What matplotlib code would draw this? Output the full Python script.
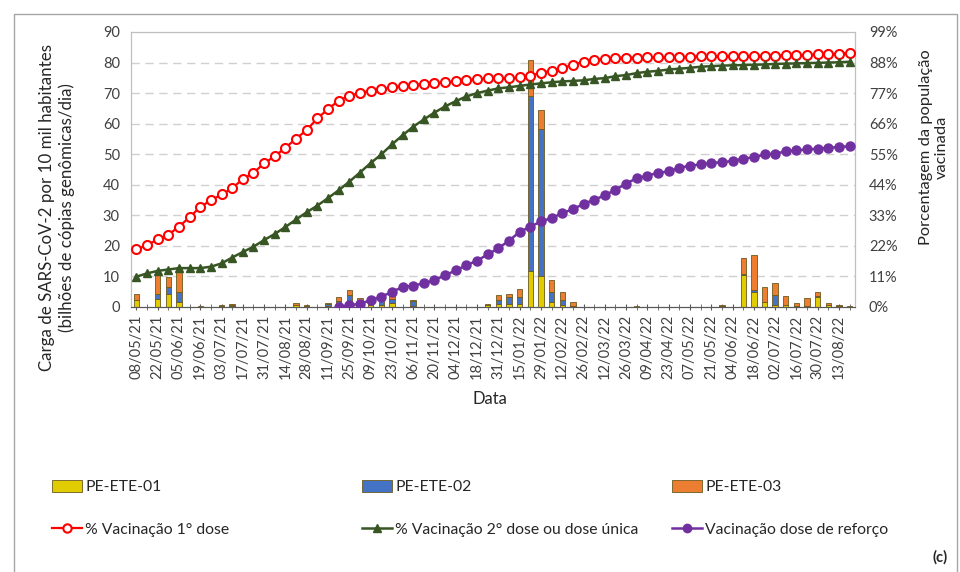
import numpy as np
import matplotlib
matplotlib.use('Agg')
import matplotlib.pyplot as plt
from matplotlib.patches import Patch, Rectangle
from matplotlib.lines import Line2D

plt.rcParams['font.family'] = ['Lato', 'DejaVu Sans']

# weekly categories, labels every 2 weeks
tick_labels = ['08/05/21', '22/05/21', '05/06/21', '19/06/21', '03/07/21', '17/07/21',
               '31/07/21', '14/08/21', '28/08/21', '11/09/21', '25/09/21', '09/10/21',
               '23/10/21', '06/11/21', '20/11/21', '04/12/21', '18/12/21', '31/12/21',
               '15/01/22', '29/01/22', '12/02/22', '26/02/22', '12/03/22', '26/03/22',
               '09/04/22', '23/04/22', '07/05/22', '21/05/22', '04/06/22', '18/06/22',
               '02/07/22', '16/07/22', '30/07/22', '13/08/22']
n_weeks = 68

# viral load (billion genomic copies / day per 10k inhabitants)
ete01 = [2.4, 0, 2.7, 4.4, 1.6, 0, 0.1, 0, 0.3, 0.4,
         0, 0, 0, 0, 0, 0.5, 0.2, 0, 0.3, 0.8,
         1.0, 0.6, 0.5, 0.6, 1.2, 0, 0.3, 0, 0, 0,
         0, 0, 0, 0.8, 1.1, 1.1, 1.1, 11.8, 10.1, 1.6,
         0.5, 0.4, 0, 0, 0, 0, 0, 0, 0, 0,
         0, 0, 0, 0, 0, 0.2, 0, 10.4, 5.0, 1.5,
         0.5, 0.5, 0.3, 0.4, 3.3, 0.5, 0.2, 0.1]
ete02 = [0, 0, 1.6, 2.2, 3.3, 0, 0, 0, 0.1, 0.2,
         0, 0, 0, 0, 0, 0, 0.1, 0, 0.6, 1.2,
         2.8, 1.2, 1.0, 2.0, 1.3, 0, 1.8, 0, 0, 0,
         0, 0, 0, 0, 1.3, 2.2, 2.2, 57.2, 48.0, 3.3,
         1.9, 0, 0, 0, 0, 0, 0, 0, 0, 0,
         0, 0, 0, 0, 0, 0, 0, 0.3, 0.7, 0.3,
         3.3, 0.3, 0, 0, 0.2, 0, 0, 0]
ete03 = [2.0, 0, 6.5, 3.1, 7.7, 0, 0.1, 0, 0.2, 0.4,
         0, 0, 0, 0, 0, 0.8, 0.2, 0, 0.4, 1.3,
         1.9, 1.3, 0.5, 1.2, 1.3, 0, 0.3, 0, 0, 0,
         0, 0, 0, 0.3, 1.6, 1.1, 2.7, 11.8, 6.4, 4.1,
         2.5, 1.2, 0, 0, 0, 0, 0, 0.3, 0, 0,
         0, 0, 0, 0, 0, 0.3, 0, 5.5, 11.3, 4.6,
         3.9, 2.7, 1.0, 2.6, 1.5, 0.8, 0.3, 0.3]

# vaccination coverage (%)
dose1 = [20.8, 22.2, 24.4, 26.0, 28.9, 32.3, 36.0, 38.4, 40.5, 42.7,
         46.1, 48.3, 51.7, 54.3, 57.3, 60.6, 63.7, 67.9, 71.2, 74.3,
         76.0, 77.0, 77.9, 78.4, 79.1, 79.6, 79.9, 80.2, 80.5, 80.9,
         81.2, 81.6, 82.0, 82.3, 82.3, 82.3, 82.7, 83.3, 84.3, 85.1,
         86.0, 87.2, 88.3, 89.0, 89.3, 89.7, 89.8, 89.8, 89.9, 89.9,
         90.0, 90.1, 90.1, 90.2, 90.2, 90.3, 90.3, 90.4, 90.4, 90.5,
         90.5, 90.6, 90.6, 90.8, 90.9, 91.0, 91.2, 91.5]
dose2 = [10.9, 12.1, 13.0, 13.5, 14.0, 14.0, 14.0, 14.5, 15.7, 17.8,
         19.8, 21.7, 24.1, 26.3, 28.8, 31.5, 34.1, 36.5, 39.2, 42.0,
         45.1, 48.4, 51.8, 54.9, 58.5, 61.8, 64.9, 67.5, 70.0, 72.2,
         74.1, 75.8, 77.0, 77.9, 78.7, 79.1, 79.6, 80.1, 80.5, 80.9,
         81.2, 81.4, 81.6, 82.1, 82.4, 83.1, 83.5, 84.2, 84.7, 85.0,
         85.5, 85.8, 86.1, 86.5, 86.7, 86.9, 87.0, 87.1, 87.2, 87.3,
         87.5, 87.6, 87.7, 87.8, 87.9, 88.0, 88.1, 88.3]
booster = [np.nan] * 19 + [
    0.0, 0.6, 1.2, 2.4, 3.7, 5.4, 7.2, 7.7, 8.5, 9.7,
    11.4, 13.2, 15.0, 16.7, 18.9, 21.1, 23.9, 27.0, 28.9, 30.8,
    32.0, 33.8, 35.2, 37.1, 38.6, 40.2, 42.2, 44.4, 46.4, 47.3,
    48.3, 48.8, 50.1, 50.9, 51.3, 51.9, 52.1, 52.6, 53.4, 53.9,
    54.9, 55.2, 56.0, 56.4, 56.7, 57.0, 57.3, 57.6, 57.9]

c_yel, c_blue, c_org = '#E0CC00', '#4472C4', '#ED7D31'
c_edge = '#6B5A1E'
c_red, c_green, c_purple = '#FF0000', '#375623', '#7030A0'
txt = '#404040'

fig = plt.figure(figsize=(9.6, 5.72), dpi=100)
ax = fig.add_axes([131/960, 1 - 307/572, 724/960, 275/572])
ax2 = ax.twinx()

x = np.arange(n_weeks)
y1 = np.array(ete01)
y2 = np.array(ete02)
y3 = np.array(ete03)
bw = 0.5
ax.bar(x, y1, bw, color=c_yel, edgecolor=c_edge, linewidth=0.6, zorder=2)
ax.bar(x, y2, bw, bottom=y1, color=c_blue, edgecolor=c_edge, linewidth=0.6, zorder=2)
ax.bar(x, y3, bw, bottom=y1 + y2, color=c_org, edgecolor=c_edge, linewidth=0.6, zorder=2)

ax.set_xlim(-0.5, n_weeks - 0.5)
ax.set_ylim(0, 90)
ax.set_yticks(range(0, 91, 10))
for v in range(10, 90, 10):
    ax.axhline(v, color='#d0d0d0', lw=1, ls=(0, (6, 4)), zorder=0)

ax.set_xticks(x[::2])
ax.set_xticklabels(tick_labels, rotation=90, fontsize=10.5, color=txt)
ax.set_xticks(x[1::2], minor=True)
ax.tick_params(axis='x', which='both', direction='inout', length=5, color='#595959', pad=3)
ax.tick_params(axis='y', length=0, labelsize=10.5, labelcolor=txt, pad=8)

ax2.plot(x, dose1, color=c_red, lw=1.6, marker='o', ms=6.5, mfc='white',
         mec=c_red, mew=1.5, zorder=3)
ax2.plot(x, dose2, color=c_green, lw=1.8, marker='^', ms=6, mfc=c_green,
         mec=c_green, zorder=4)
ax2.plot(x, booster, color=c_purple, lw=1.8, marker='o', ms=6.5, mfc=c_purple,
         mec=c_purple, zorder=5)
ax2.set_ylim(0, 99)
ax2.set_yticks(range(0, 100, 11))
ax2.set_yticklabels(['%d%%' % v for v in range(0, 100, 11)])
ax2.tick_params(axis='y', length=0, labelsize=10.5, labelcolor=txt, pad=10)

for a in (ax, ax2):
    for s in ('left', 'right', 'top'):
        a.spines[s].set_color('#bfbfbf')
    a.spines['bottom'].set_color('#595959')

ax.set_ylabel('Carga de SARS-CoV-2 por 10 mil habitantes\n(bilhões de cópias genômicas/dia)',
              fontsize=12.2, color='#262626', linespacing=1.2)
ax.yaxis.set_label_coords(-0.078, 0.36)
ax2.set_ylabel('Porcentagem da população\nvacinada', fontsize=11.8, color='#262626',
               linespacing=1.2, multialignment='center')
ax2.yaxis.set_label_coords(1.088, 0.58)
ax.set_xlabel('Data', fontsize=12, color='#262626')
ax.xaxis.set_label_coords(0.496, -0.305)

# legend: three columns placed by hand
bar_kw = dict(edgecolor=c_edge, linewidth=0.6)
cols = [
    [Patch(facecolor=c_yel, **bar_kw, label='PE-ETE-01'),
     Line2D([], [], color=c_red, lw=1.6, marker='o', ms=6, mfc='white', mec=c_red,
            mew=1.5, label='% Vacinação 1° dose')],
    [Patch(facecolor=c_blue, **bar_kw, label='PE-ETE-02'),
     Line2D([], [], color=c_green, lw=1.8, marker='^', ms=6, mfc=c_green,
            label='% Vacinação 2° dose ou dose única')],
    [Patch(facecolor=c_org, **bar_kw, label='PE-ETE-03'),
     Line2D([], [], color=c_purple, lw=1.8, marker='o', ms=6, mfc=c_purple,
            label='Vacinação dose de reforço')],
]
for xpos, hs in zip([38, 348, 658], cols):
    fig.legend(handles=hs, loc='upper left', bbox_to_anchor=(xpos/960, 1 - 466/572),
               frameon=False, fontsize=11.3, handlelength=1.9, handleheight=0.75,
               handletextpad=0.2, labelspacing=1.8, labelcolor='#262626')

fig.text(940/960, 1 - 557/572, '(c)', fontsize=10.5, fontweight='bold', color='#262626',
         ha='center', va='center')

fig.add_artist(Rectangle((14/960, -0.1), (957 - 14)/960, 1.1 - 14/572,
                         transform=fig.transFigure, fill=False, ec='#a6a6a6', lw=1))

fig.savefig('out.png', dpi=100)
